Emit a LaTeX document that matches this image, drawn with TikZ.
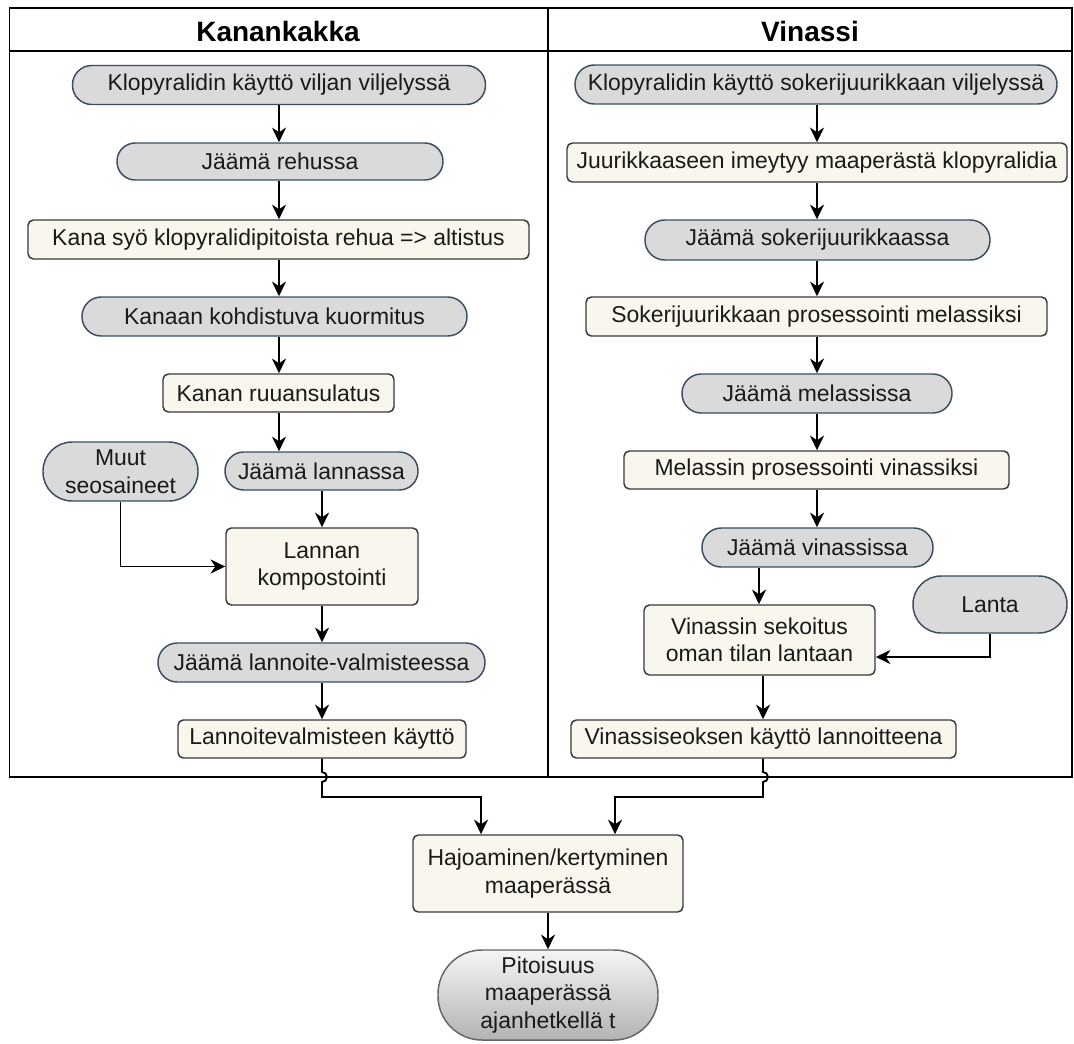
\documentclass[tikz,border=0pt]{standalone}
\usepackage{fontspec}
\setmainfont{Liberation Sans}
\usetikzlibrary{arrows.meta}
\definecolor{gfill}{HTML}{DADADA}
\definecolor{gdraw}{HTML}{3B4D5F}
\definecolor{yfill}{HTML}{F9F7ED}
\definecolor{ydraw}{HTML}{36393D}
\definecolor{txt}{HTML}{1A1A1A}
\definecolor{pdraw}{HTML}{666666}
\begin{document}
\begin{tikzpicture}[x=0.75pt,y=-0.75pt,
 base/.style={font=\fontsize{17.2}{20.6}\selectfont, text=txt, inner sep=0pt, align=center, line width=1.1pt},
 stad/.style 2 args={base, draw=gdraw, fill=gfill, minimum width=#1*0.75pt, minimum height=#2*0.75pt, rounded corners=#2*0.37pt},
 ybox/.style 2 args={base, draw=ydraw, fill=yfill, minimum width=#1*0.75pt, minimum height=#2*0.75pt, rounded corners=4pt},
 arr/.style={line width=1.4pt, -{Stealth[length=11pt,width=10.5pt,inset=3.5pt]}},
 frame/.style={line width=1.4pt},
 head/.style={font=\bfseries\fontsize{21}{25}\selectfont, inner sep=0pt}]
\useasboundingbox (0,0) rectangle (1074,1043);
% frame
\draw[frame] (9.5,8) rectangle (1072,777);
\draw[frame] (9.5,51) -- (1072,51);
\draw[frame] (548,8) -- (548,777);
\node[head] (H1) at (278,31) {Kanankakka};
\node[head] (H2) at (810,31) {Vinassi};
% left column
\node[stad={413}{39}] (L1) at (279,85) {Klopyralidin käyttö viljan viljelyssä};
\node[stad={326}{37}] (L2) at (280,161.5) {Jäämä rehussa};
\node[ybox={501}{39}] (L3) at (278.5,239.5) {Kana syö klopyralidipitoista rehua => altistus};
\node[stad={385}{39}] (L4) at (274.5,316.5) {Kanaan kohdistuva kuormitus};
\node[ybox={231}{38}] (L5) at (278.5,393) {Kanan ruuansulatus};
\node[stad={155}{59}] (L6) at (120.5,471.5) {Muut\\seosaineet};
\node[stad={193}{38}] (L7) at (321.5,471) {Jäämä lannassa};
\node[ybox={192}{77}] (L8) at (322,566.5) {Lannan\\kompostointi};
\node[stad={327}{39}] (L9) at (321.5,662.5) {Jäämä lannoite-valmisteessa};
\node[ybox={288}{38}] (L10) at (322,739) {Lannoitevalmisteen käyttö};
% right column
\node[stad={482}{39}] (R1) at (816,84.5) {Klopyralidin käyttö sokerijuurikkaan viljelyssä};
\node[ybox={500}{39}] (R2) at (817,162.5) {Juurikkaaseen imeytyy maaperästä klopyralidia};
\node[stad={345}{40}] (R3) at (817.5,240) {Jäämä sokerijuurikkaassa};
\node[ybox={461}{39}] (R4) at (816.5,316.5) {Sokerijuurikkaan prosessointi melassiksi};
\node[stad={270}{39}] (R5) at (817,393.5) {Jäämä melassissa};
\node[ybox={385}{38}] (R6) at (816.5,470) {Melassin prosessointi vinassiksi};
\node[stad={231}{39}] (R7) at (817.5,547.5) {Jäämä vinassissa};
\node[stad={154}{57}] (R8) at (990,604.5) {Lanta};
\node[ybox={231}{70}] (R9) at (759.5,640) {Vinassin sekoitus\\oman tilan lantaan};
\node[ybox={385}{38}] (R10) at (763.5,739) {Vinassiseoksen käyttö lannoitteena};
% bottom
\node[ybox={270}{77}] (B1) at (548,873.5) {Hajoaminen/kertyminen\\maaperässä};
\node[base, draw=pdraw, top color=white!96!black, bottom color=black!30, minimum width=220*0.75pt, minimum height=90*0.75pt, rounded corners=33pt] (B2) at (548,995) {Pitoisuus\\maaperässä\\ajanhetkellä t};
% left arrows
\draw[arr] (279,0 |- L1.south) -- (279,0 |- L2.north);
\draw[arr] (279,0 |- L2.south) -- (279,0 |- L3.north);
\draw[arr] (279,0 |- L3.south) -- (279,0 |- L4.north);
\draw[arr] (279,0 |- L4.south) -- (279,0 |- L5.north);
\draw[arr] (279,0 |- L5.south) -- (279,0 |- L7.north);
\draw[arr] (322,0 |- L7.south) -- (322,0 |- L8.north);
\draw[arr] (L6.south) |- (L8.west);
\draw[arr] (322,0 |- L8.south) -- (322,0 |- L9.north);
\draw[arr] (322,0 |- L9.south) -- (322,0 |- L10.north);
% right arrows
\draw[arr] (817,0 |- R1.south) -- (817,0 |- R2.north);
\draw[arr] (817,0 |- R2.south) -- (817,0 |- R3.north);
\draw[arr] (817,0 |- R3.south) -- (817,0 |- R4.north);
\draw[arr] (817,0 |- R4.south) -- (817,0 |- R5.north);
\draw[arr] (817,0 |- R5.south) -- (817,0 |- R6.north);
\draw[arr] (817,0 |- R6.south) -- (817,0 |- R7.north);
\draw[arr] (759,0 |- R7.south) -- (759,0 |- R9.north);
\draw[arr] (R8.south) |- (R9.east |- 0,657);
\draw[arr] (763,0 |- R9.south) -- (763,0 |- R10.north);
% to bottom
\draw[arr] (322,0 |- L10.south) -- (322,772) arc[start angle=90,end angle=-90,radius=3.75pt] -- (322,797) -- (481,797) -- (481,0 |- B1.north);
\draw[arr] (763,0 |- R10.south) -- (763,772) arc[start angle=90,end angle=-90,radius=3.75pt] -- (763,797) -- (615,797) -- (615,0 |- B1.north);
\draw[arr] (B1.south) -- (B2.north);
\end{tikzpicture}
\end{document}
